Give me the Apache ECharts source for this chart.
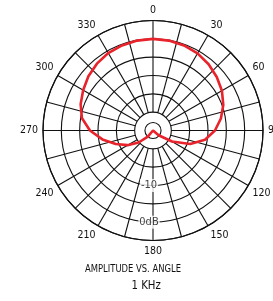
<!DOCTYPE html>
<html>
<head>
<meta charset="utf-8">
<script src="https://cdn.jsdelivr.net/npm/echarts@6/dist/echarts.min.js"></script>
<style>
html,body{margin:0;padding:0;background:#fff;}
#chart{width:273px;height:301px;}
</style>
</head>
<body>
<div id="chart"></div>
<script>
// ---- data ----
const angleLabels = ['0','30','60','90','120','150','180','210','240','270','300','330'];
const spokeAngles = [0,15,30,45,60,75,90,105,120,135,150,165,180,195,210,225,240,255,270,285,300,315,330,345];
const dbLabels = ['-10','0dB'];
const dbLabelValues = [-10, 0];
const innerRingDb = [-22.8];
const curveAngles = [0,10,20,30,40,50,60,70,80,90,100,110,120,130,180,220,230,240,250,260,270,280,290,300,310,320,330,340,350,360];
const curveDb =     [0,-0.1,-0.3,-0.7,-1.4,-2.3,-3.3,-4.6,-6.2,-8.1,-10.6,-14.2,-19.0,-23.0,-25,-22.8,-19.9,-17.0,-14.2,-11.0,-7.8,-5.3,-4.0,-3.0,-2.0,-1.2,-0.6,-0.3,-0.1,0];
const titleLine1 = 'AMPLITUDE VS. ANGLE';
const titleLine2 = '1 KHz';

const RMIN = -25, RMAX = 5;
const FONT = "'Liberation Sans Narrow', 'DejaVu Sans Condensed', sans-serif";
const INK = '#111';

const chart = echarts.init(document.getElementById('chart'), null, {renderer: 'canvas'});

const option = {
  animation: false,
  backgroundColor: '#fff',
  polar: { center: [153, 130.5], radius: 110 },
  angleAxis: {
    type: 'value', min: 0, max: 360, interval: 30, startAngle: 90, clockwise: true,
    axisLine: { show: true, lineStyle: { color: INK, width: 1.2 } },
    axisTick: { show: false },
    splitLine: { show: false },
    axisLabel: {
      margin: 5, color: '#111', fontSize: 10.5, fontFamily: FONT,
      formatter: function (v) { return v >= 360 ? '' : angleLabels[Math.round(v / 30)]; }
    }
  },
  radiusAxis: {
    type: 'value', min: RMIN, max: RMAX, interval: 5,
    axisLine: { show: false }, axisTick: { show: false }, axisLabel: { show: false },
    splitLine: { show: true, lineStyle: { color: INK, width: 1.1 } }
  },
  series: [
    {
      type: 'custom', coordinateSystem: 'polar', silent: true, z: 2,
      data: spokeAngles.map(a => [RMAX, a]),
      renderItem: function (params, api) {
        const a = api.value(1);
        const p1 = api.coord([-20, a]);
        const p2 = api.coord([RMAX, a]);
        return { type: 'line', shape: { x1: p1[0], y1: p1[1], x2: p2[0], y2: p2[1] },
                 style: { stroke: INK, lineWidth: 1.1 } };
      }
    },
    {
      type: 'custom', coordinateSystem: 'polar', silent: true, z: 2,
      data: innerRingDb.map(d => [d, 0]),
      renderItem: function (params, api) {
        const c = api.coord([RMIN, 0]);
        const p = api.coord([api.value(0), 0]);
        const r = Math.hypot(p[0] - c[0], p[1] - c[1]);
        return { type: 'circle', shape: { cx: c[0], cy: c[1], r: r },
                 style: { stroke: INK, fill: null, lineWidth: 1.1 } };
      }
    },
    {
      type: 'scatter', coordinateSystem: 'polar', silent: true, z: 3,
      symbolSize: 0,
      data: dbLabelValues.map((d, i) => ({ value: [d, 180], name: dbLabels[i] })),
      label: {
        show: true, position: 'inside', formatter: p => p.name,
        color: '#111', fontSize: 11, fontFamily: FONT,
        backgroundColor: '#fff', padding: [1, 1], offset: [-4, 0]
      }
    },
    {
      type: 'line', coordinateSystem: 'polar', z: 4,
      data: curveAngles.map((a, i) => [curveDb[i], a]),
      symbol: 'none', smooth: false,
      lineStyle: { color: '#e8232b', width: 2.6 }
    }
  ],
  graphic: [
    { type: 'text', x: 85, y: 264, scaleX: 0.85, style: { text: titleLine1, fill: '#111', font: "11px " + FONT } },
    { type: 'text', x: 131.5, y: 279, scaleX: 0.87, style: { text: titleLine2, fill: '#111', font: "13px " + FONT } }
  ]
};
chart.setOption(option);
</script>
</body>
</html>
